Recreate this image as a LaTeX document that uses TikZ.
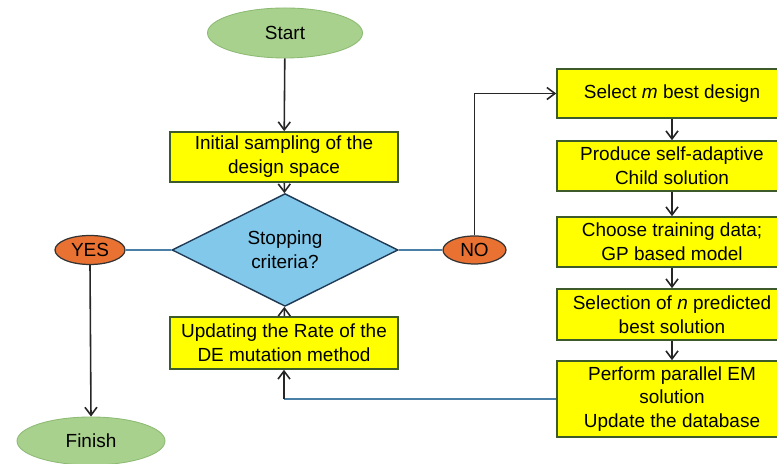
\documentclass[tikz,border=0pt]{standalone}
\usepackage{fontspec}
\setmainfont{Liberation Sans}
\usetikzlibrary{shapes.geometric,arrows.meta}

\definecolor{boxyellow}{HTML}{FFFF00}
\definecolor{boxedge}{HTML}{3D5A2A}
\definecolor{termgreen}{HTML}{A9D18E}
\definecolor{termedge}{HTML}{8DBB74}
\definecolor{decblue}{HTML}{82C8EA}
\definecolor{decedge}{HTML}{203A55}
\definecolor{ansorange}{HTML}{E97132}
\definecolor{linkblue}{HTML}{4A7FA8}

\begin{document}
\begin{tikzpicture}[
    font=\fontsize{10.8}{13.6}\selectfont,
    etape/.style={draw=boxedge, fill=boxyellow, line width=0.9pt, align=center,
                  minimum width=4.56cm, minimum height=1cm, inner sep=1pt},
    terminal/.style={ellipse, draw=termedge, fill=termgreen, line width=0.5pt,
                     minimum width=3.1cm, minimum height=1cm, inner sep=0pt},
    reponse/.style={ellipse, draw=black!80, fill=ansorange, line width=0.7pt,
                    minimum width=1.4cm, minimum height=0.58cm, inner sep=0pt},
    test/.style={diamond, draw=decedge, fill=decblue, line width=0.8pt, align=center,
                 minimum width=4.52cm, minimum height=1.9cm, inner sep=0pt},
    fleche/.style={-{Straight Barb[length=1.6mm,width=2.4mm]}, line width=0.9pt, black!85},
    lien/.style={line width=1pt, linkblue}
]
    \useasboundingbox (0,0) rectangle (15.54,9.28);

    % main loop
    \node[terminal] (start) at (5.70,8.62) {Start};
    \node[etape] (init) at (5.68,6.14) {Initial sampling of the\\design space};
    \node[test] (stop) at (5.70,4.28) {Stopping\\criteria?};
    \node[etape, minimum height=1.04cm] (upd) at (5.68,2.42) {Updating the Rate of the\\DE mutation method};

    \node[reponse] (yes) at (1.80,4.28) {YES};
    \node[reponse, minimum width=1.26cm, minimum height=0.56cm] (no) at (9.49,4.28) {NO};
    \node[terminal, minimum width=2.96cm, minimum height=0.96cm] (fin) at (1.82,0.46) {Finish};

    % right column
    \node[etape, minimum width=4.6cm, minimum height=0.98cm] (sel) at (13.44,7.41) {Select \textit{m} best design};
    \node[etape, minimum width=4.6cm] (prod) at (13.44,5.96) {Produce self-adaptive\\Child solution};
    \node[etape, minimum width=4.6cm] (train) at (13.44,4.44) {Choose training data;\\GP based model};
    \node[etape, minimum width=4.6cm, minimum height=1.02cm] (pred) at (13.44,2.99) {Selection of \textit{n} predicted\\best solution};
    \node[etape, minimum width=4.6cm, minimum height=1.52cm] (perf) at (13.44,1.30) {Perform parallel EM\\solution\\Update the database};

    \draw[fleche] (start) -- (init);
    \draw[fleche] (init) -- (stop);
    \draw[lien] (stop.west) -- (yes.east);
    \draw[lien] (stop.east) -- (no.west);
    \draw[fleche] (yes.south) -- (fin.north);
    \draw[fleche] (no.north) |- (sel.west);

    \draw[fleche] (sel) -- (prod);
    \draw[fleche] (prod) -- (train);
    \draw[fleche] (train) -- (pred);
    \draw[fleche] (pred) -- (perf);

    \coordinate (coude) at (upd.south |- perf.west);
    \draw[lien] (perf.west) -- (coude);
    \draw[fleche] (coude) -- (upd.south);
    \draw[fleche] (upd) -- (stop);
\end{tikzpicture}
\end{document}
